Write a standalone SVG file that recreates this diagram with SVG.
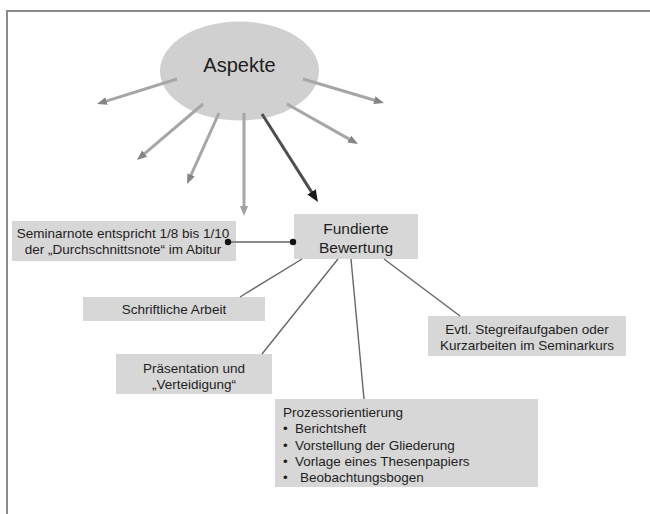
<svg xmlns="http://www.w3.org/2000/svg" width="650" height="514" viewBox="0 0 650 514">
<style>
.box{fill:#d7d7d7}
.t{font-family:"Liberation Sans",Arial,sans-serif;font-size:13.5px;fill:#1e1e1e}
.tc{text-anchor:middle}
.arr{stroke:#a6a6a6;stroke-width:3;fill:none}
.ln{stroke:#666;stroke-width:1.4;fill:none}
</style>
<defs>
<marker id="hg" markerUnits="userSpaceOnUse" markerWidth="10" markerHeight="8" refX="2" refY="4" orient="auto"><path d="M0,0 L10,4 L0,8 z" fill="#858585"/></marker>
<marker id="hl" markerUnits="userSpaceOnUse" markerWidth="10" markerHeight="8" refX="2" refY="4" orient="auto"><path d="M0,0 L10,4 L0,8 z" fill="#a0a0a0"/></marker>
<marker id="hd" markerUnits="userSpaceOnUse" markerWidth="12" markerHeight="10" refX="2" refY="5" orient="auto"><path d="M0,0 L12,5 L0,10 z" fill="#1a1a1a"/></marker>
</defs>
<rect width="650" height="514" fill="#fff"/>
<path d="M7,514 V11 H650" stroke="#8a8a8a" stroke-width="2" fill="none"/>

<g id="aspekte">
<ellipse cx="239.5" cy="71" rx="79.5" ry="49.5" fill="#d0d0d0"/>
<text class="t tc" x="239.5" y="72" style="font-size:20px">Aspekte</text>
</g>

<g id="seminarnote">
<rect class="box" x="12" y="221" width="224" height="40"/>
<text class="t tc" x="123" y="238">Seminarnote entspricht 1/8 bis 1/10</text>
<text class="t tc" x="123" y="254">der „Durchschnittsnote“ im Abitur</text>
</g>

<g id="fundierte">
<rect class="box" x="294" y="214" width="124" height="45"/>
<text class="t tc" x="356" y="234" style="font-size:15.5px">Fundierte</text>
<text class="t tc" x="356" y="253" style="font-size:15.5px">Bewertung</text>
</g>

<g id="schriftlich">
<rect class="box" x="83" y="297" width="182" height="24"/>
<text class="t tc" x="174" y="314">Schriftliche Arbeit</text>
</g>

<g id="praesentation">
<rect class="box" x="116" y="354" width="156" height="40"/>
<text class="t tc" x="194" y="373">Präsentation und</text>
<text class="t tc" x="194" y="389">„Verteidigung“</text>
</g>

<g id="evtl">
<rect class="box" x="428" y="316" width="198" height="40"/>
<text class="t tc" x="527" y="334">Evtl. Stegreifaufgaben oder</text>
<text class="t tc" x="527" y="350">Kurzarbeiten im Seminarkurs</text>
</g>

<g id="prozess">
<rect class="box" x="275" y="399" width="263" height="88"/>
<text class="t" x="283" y="417">Prozessorientierung</text>
<text class="t" x="283" y="433">•</text><text class="t" x="295" y="433">Berichtsheft</text>
<text class="t" x="283" y="450">•</text><text class="t" x="295" y="450">Vorstellung der Gliederung</text>
<text class="t" x="283" y="466">•</text><text class="t" x="295" y="466">Vorlage eines Thesenpapiers</text>
<text class="t" x="283" y="482">•</text><text class="t" x="300" y="482">Beobachtungsbogen</text>
</g>

<g id="connectors">
<line class="arr" x1="177" y1="79" x2="104.6" y2="101.6" marker-end="url(#hg)"/>
<line class="arr" x1="303" y1="79" x2="376.3" y2="100.7" marker-end="url(#hg)"/>
<line class="arr" x1="203" y1="104" x2="143.1" y2="154.8" marker-end="url(#hg)"/>
<line class="arr" x1="219" y1="113" x2="190.3" y2="176.7" marker-end="url(#hg)"/>
<line class="arr" x1="244" y1="113" x2="244" y2="208" stroke="#c2c2c2" marker-end="url(#hl)"/>
<line class="arr" x1="287" y1="104" x2="351" y2="140.1" marker-end="url(#hg)"/>
<line x1="262" y1="114" x2="312.6" y2="193.6" stroke="#4e4e4e" stroke-width="3" marker-end="url(#hd)"/>
<line x1="228" y1="242" x2="293" y2="242" stroke="#8a8a8a" stroke-width="2"/>
<circle cx="228" cy="242" r="3.2" fill="#111"/>
<circle cx="293" cy="242" r="3.2" fill="#111"/>
<line class="ln" x1="302" y1="259" x2="240" y2="297"/>
<line class="ln" x1="338" y1="259" x2="262" y2="354"/>
<line class="ln" x1="351" y1="259" x2="364" y2="399"/>
<line class="ln" x1="384" y1="259" x2="460" y2="316"/>
</g>
</svg>
